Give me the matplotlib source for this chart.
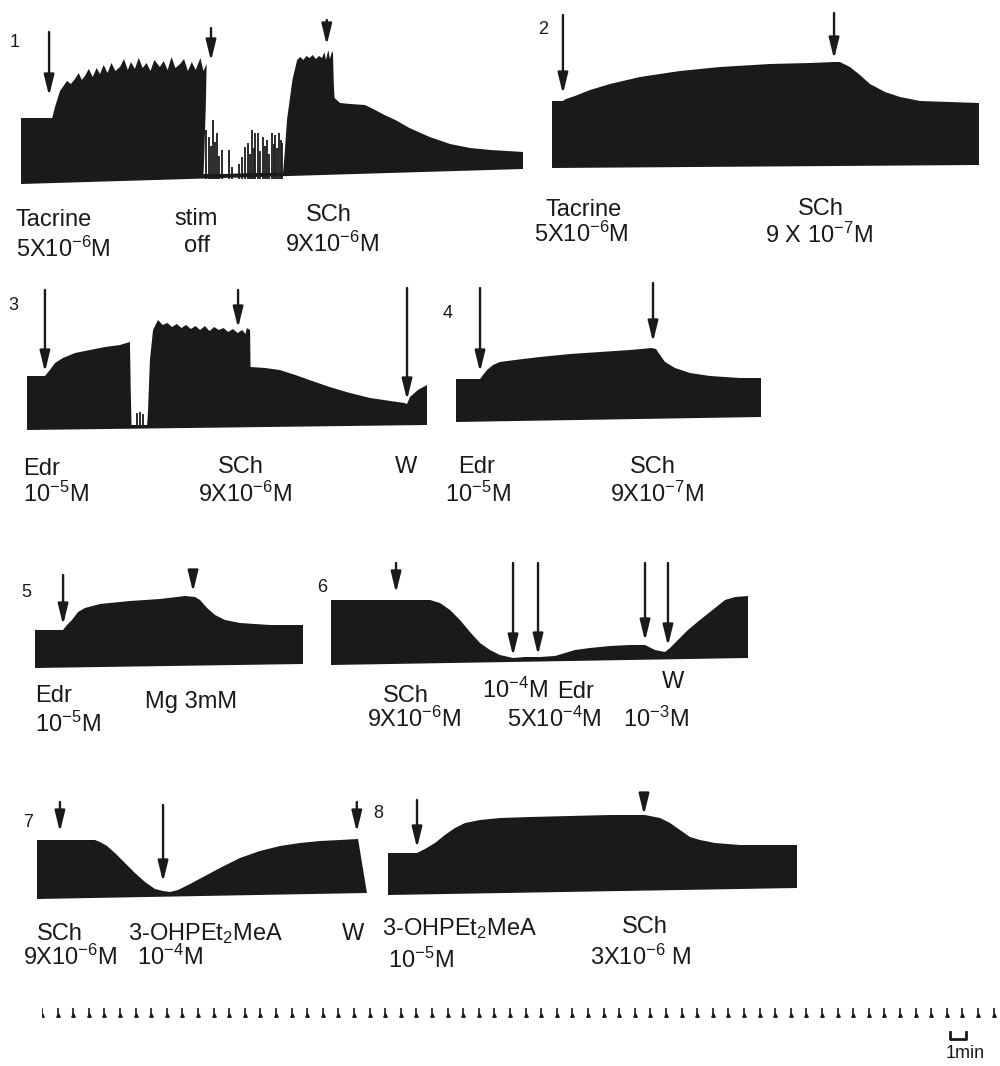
import numpy as np
import matplotlib.pyplot as plt
from matplotlib.patches import ArrowStyle

plt.rcParams["font.family"] = ["Liberation Sans", "DejaVu Sans"]
plt.rcParams["mathtext.fontset"] = "custom"
plt.rcParams["mathtext.rm"] = "Liberation Sans"
plt.rcParams["mathtext.default"] = "regular"

W, H = 1000, 1066
PX_PER_MIN = 15.6          # chart speed on the page
INK = "#1a1a1a"

# Twitch height envelopes: time (min) and peak tension (chart units above pen baseline)
# Panel 1: tacrine, stimulation off, SCh
p1_t = [0, 2.0, 2.18, 2.5, 2.95, 3.2, 3.46, 3.7, 3.9, 4.1, 4.35, 4.6, 4.85, 5.06, 5.3, 5.55, 5.8,
        6.05, 6.35, 6.6, 6.85, 7.05, 7.3, 7.55, 7.8, 8.05, 8.3, 8.55, 8.9, 9.15, 9.4, 9.65, 9.9,
        10.2, 10.45, 10.7, 10.95, 11.2, 11.5, 11.7, 11.9, 11.85, 11.75, 11.7, 13.0, 15.0, 16.8,
        16.9, 17.05, 17.4, 17.7, 17.9, 18.1, 18.3, 18.5, 18.7, 18.9, 19.1, 19.3, 19.45, 19.55,
        19.7, 19.8, 19.95, 20.0, 20.05, 20.1, 20.45, 21.1, 22.05, 22.7, 23.3, 24.0, 24.9, 26.2,
        27.5, 28.8, 30.1, 32.2]
p1_top = [66, 66, 77, 93, 103, 100, 105, 111, 104, 108, 115, 107, 116, 110, 119, 111, 121,
          113, 117, 125, 114, 122, 115, 126, 116, 121, 113, 124, 117, 123, 114, 127, 116,
          120, 125, 113, 122, 114, 126, 113, 120, 80, 30, 10, 10, 11, 11,
          30, 64, 104, 124, 127, 124, 128, 126, 129, 125, 128, 126, 132, 124,
          134, 125, 133, 130, 100, 86, 81, 80, 79, 74, 69, 64, 56, 47,
          40, 36, 34, 32]
p1_floor_t = [0, 32.2]
p1_floor_h = [0, 15]
# single twitches while the tissue recovers from stim off
p1_twitch_t = [11.86, 12.05, 12.15, 12.31, 12.45, 12.56, 12.7, 12.88, 13.33, 13.53, 14.0, 14.17,
               14.36, 14.55, 14.65, 14.81, 14.95, 15.0, 15.19, 15.35, 15.51, 15.65, 15.77, 15.9,
               16.09, 16.2, 16.28, 16.4, 16.54, 16.65, 16.73]
p1_twitch_h = [54, 47, 38, 64, 42, 51, 28, 34, 34, 17, 20, 27, 37, 41, 30, 54, 36, 51, 51, 33,
               47, 38, 44, 30, 51, 40, 49, 36, 51, 44, 41]
p1_arrow_t = [1.8, 12.18, 19.6]
p1_arrow_from = [152, 156, 164]
p1_arrow_to = [88, 123, 139]

# Panel 2: tacrine, SCh 9e-7
p2_t = [0, 0.7, 0.9, 1.47, 2.44, 3.72, 5.64, 8.2, 10.77, 13.97, 16.54, 18.14, 18.46, 19.1,
        19.74, 20.38, 21.35, 22.31, 23.6, 25.5, 27.37]
p2_top = [67, 67, 69, 72, 78, 84, 91, 97, 101, 104, 105, 106, 106, 101, 93, 84, 76, 71, 67, 66, 65]
p2_floor_t = [0, 27.37]
p2_floor_h = [0, 3]
p2_arrow_t = [0.7, 18.08]
p2_arrow_from = [153, 155]
p2_arrow_to = [74, 109]

# Panel 3: edrophonium, SCh 9e-6, wash
p3_t = [0, 1.15, 1.47, 1.8, 2.3, 3.08, 4.04, 5.0, 5.96, 6.6, 6.65, 6.7, 7.7, 7.76, 7.88, 8.08,
        8.4, 8.7, 9.0, 9.3, 9.6, 9.9, 10.2, 10.5, 10.8, 11.1, 11.4, 11.7, 12.0, 12.3, 12.6, 12.9,
        13.2, 13.5, 13.8, 14.0, 14.1, 14.3, 14.33, 15.26, 16.2, 17.2, 18.1, 19.4, 20.7, 22.0,
        23.3, 24.2, 24.36, 24.55, 25.06, 25.64]
p3_top = [54, 54, 60, 67, 72, 77, 80, 83, 85, 88, 40, 5, 5, 20, 70, 100,
          110, 105, 107, 103, 106, 102, 105, 101, 104, 100, 104, 99, 103, 100, 102, 98,
          101, 97, 100, 96, 102, 100, 63, 62, 60, 55, 50, 43, 37, 32,
          29, 27, 26, 33, 40, 45]
p3_floor_t = [0, 25.64]
p3_floor_h = [0, 5]
p3_twitch_t = [7.05, 7.24, 7.44]
p3_twitch_h = [17, 18, 16]
p3_arrow_t = [1.15, 13.53, 24.36]
p3_arrow_from = [140, 140, 142]
p3_arrow_to = [58, 102, 30]

# Panel 4: edrophonium, SCh 9e-7
p4_t = [0, 1.54, 1.73, 1.99, 2.37, 2.82, 3.78, 5.38, 7.31, 9.23, 11.15, 12.56, 12.82, 13.08,
        13.4, 14.04, 15.0, 16.28, 18.2, 19.55]
p4_top = [43, 43, 47, 52, 57, 60, 62, 65, 68, 70, 72, 74, 73, 67, 60, 54, 49, 46, 44, 44]
p4_floor_t = [0, 19.55]
p4_floor_h = [0, 5]
p4_arrow_t = [1.54, 12.63]
p4_arrow_from = [134, 139]
p4_arrow_to = [50, 80]

# Panel 5: edrophonium, Mg 3 mM
p5_t = [0, 1.8, 2.05, 2.37, 2.76, 3.2, 4.17, 6.09, 8.01, 9.62, 10.26, 10.58, 11.03, 11.54,
        12.18, 13.14, 15.06, 17.18]
p5_top = [38, 38, 43, 48, 56, 60, 64, 67, 69, 72, 71, 68, 60, 53, 48, 45, 43, 43]
p5_floor_t = [0, 17.18]
p5_floor_h = [0, 4]
p5_arrow_t = [1.8, 10.13]
p5_arrow_from = [93, 95]
p5_arrow_to = [43, 76]

# Panel 6: SCh block, edrophonium 1e-4 / 5e-4 / 1e-3, wash
p6_t = [0, 6.35, 6.99, 7.63, 8.27, 8.91, 9.55, 10.19, 10.83, 11.67, 12.44, 13.4, 14.36, 15.0,
        15.64, 16.6, 17.88, 19.17, 20.13, 20.77, 21.41, 21.73, 22.24, 22.88, 23.65, 24.62,
        25.26, 25.9, 26.73]
p6_top = [65, 65, 62, 55, 45, 33, 22, 15, 10, 7, 8, 8, 9, 12, 15, 17, 19, 20, 20, 15, 13, 17,
          25, 35, 45, 57, 65, 68, 69]
p6_floor_t = [0, 26.73]
p6_floor_h = [0, 7]
p6_arrow_t = [4.17, 11.67, 13.27, 20.13, 21.6]
p6_arrow_from = [102, 102, 102, 102, 102]
p6_arrow_to = [72, 9, 10, 24, 19]

# Panel 7: SCh, 3-OHPEt2MeA 1e-4, wash
p7_t = [0, 3.72, 4.04, 4.49, 5.0, 5.64, 6.28, 6.92, 7.56, 8.08, 8.53, 9.04, 9.81, 10.77, 11.73,
        13.01, 14.29, 15.58, 16.86, 18.14, 19.42, 20.58]
p7_top = [59, 59, 57, 53, 46, 36, 26, 17, 10, 8, 7, 9, 15, 23, 31, 41, 48, 53, 56, 58, 59, 60]
p7_floor_t = [0, 21.15]
p7_floor_h = [0, 6]
p7_arrow_t = [1.47, 8.08, 20.5]
p7_arrow_from = [97, 94, 97]
p7_arrow_to = [67, 17, 67]

# Panel 8: 3-OHPEt2MeA 1e-5, SCh 3e-6
p8_t = [0, 1.86, 2.37, 3.01, 3.65, 4.29, 4.94, 5.9, 7.18, 9.1, 11.67, 14.23, 16.47, 17.44,
        18.08, 18.72, 19.36, 20.0, 20.96, 22.56, 26.22]
p8_top = [42, 42, 46, 52, 60, 67, 72, 75, 77, 78, 79, 80, 80, 77, 72, 65, 58, 55, 52, 50, 50]
p8_floor_t = [0, 26.22]
p8_floor_h = [0, 7]
p8_arrow_t = [1.86, 16.41]
p8_arrow_from = [95, 92]
p8_arrow_to = [47, 80]

# 1-min time marker
minute_marks = np.arange(0, 62)

fig = plt.figure(figsize=(W / 100, H / 100), dpi=100)
fig.patch.set_facecolor("white")


def trace_axes(x0, y0, t_end, h_lo=-12, h_hi=175):
    # x0, y0: page pixel where t=0 sits on the pen baseline; one chart unit = one pixel
    ax = fig.add_axes([x0 / W, 1 - (y0 - h_lo) / H,
                       t_end * PX_PER_MIN / W, (h_hi - h_lo) / H])
    ax.set_xlim(0, t_end)
    ax.set_ylim(h_lo, h_hi)
    ax.axis("off")
    return ax


def draw_trace(ax, t, top, floor_t, floor_h):
    xs = list(t) + floor_t[::-1]
    ys = list(top) + floor_h[::-1]
    ax.fill(xs, ys, color=INK, lw=0)


def draw_arrows(ax, times, tails, tips):
    style = ArrowStyle("-|>", head_length=0.9, head_width=0.22)
    for t, a, b in zip(times, tails, tips):
        ax.annotate("", xy=(t, b), xytext=(t, a),
                    arrowprops=dict(arrowstyle=style, color=INK, lw=1.7,
                                    shrinkA=0, shrinkB=0, mutation_scale=14),
                    annotation_clip=False)


def label(x, y, s, size=17):
    fig.text(x / W, 1 - y / H, s, fontsize=size, ha="left", va="baseline", color=INK)


panels = [
    (21, 184, p1_t, p1_top, p1_floor_t, p1_floor_h, p1_arrow_t, p1_arrow_from, p1_arrow_to),
    (552, 168, p2_t, p2_top, p2_floor_t, p2_floor_h, p2_arrow_t, p2_arrow_from, p2_arrow_to),
    (27, 430, p3_t, p3_top, p3_floor_t, p3_floor_h, p3_arrow_t, p3_arrow_from, p3_arrow_to),
    (456, 422, p4_t, p4_top, p4_floor_t, p4_floor_h, p4_arrow_t, p4_arrow_from, p4_arrow_to),
    (35, 668, p5_t, p5_top, p5_floor_t, p5_floor_h, p5_arrow_t, p5_arrow_from, p5_arrow_to),
    (331, 665, p6_t, p6_top, p6_floor_t, p6_floor_h, p6_arrow_t, p6_arrow_from, p6_arrow_to),
    (37, 899, p7_t, p7_top, p7_floor_t, p7_floor_h, p7_arrow_t, p7_arrow_from, p7_arrow_to),
    (388, 895, p8_t, p8_top, p8_floor_t, p8_floor_h, p8_arrow_t, p8_arrow_from, p8_arrow_to),
]

axes = []
for x0, y0, t, top, ft, fh, at, af, ato in panels:
    ax = trace_axes(x0, y0, ft[-1])
    draw_trace(ax, t, top, ft, fh)
    draw_arrows(ax, at, af, ato)
    axes.append(ax)

axes[0].vlines(p1_twitch_t, 5, p1_twitch_h, color=INK, lw=1.3)
axes[2].vlines(p3_twitch_t, 2, p3_twitch_h, color=INK, lw=1.3)

# panel numbers
for n, (x, y) in enumerate([(10, 47), (538, 34), (8, 310), (443, 318),
                            (21, 597), (317, 592), (23, 827), (373, 818)], start=1):
    label(x, y, str(n), size=13)

# drug labels
label(15, 226, "Tacrine")
label(16, 257, "5X10$^{-6}$M")
label(174, 225, "stim")
label(184, 252, "off")
label(306, 221, "SCh")
label(285, 252, "9X10$^{-6}$M")

label(545, 216, "Tacrine")
label(534, 242, "5X10$^{-6}$M")
label(798, 215, "SCh")
label(765, 243, "9 X 10$^{-7}$M")

label(23, 475, "Edr")
label(23, 502, "10$^{-5}$M")
label(218, 473, "SCh")
label(198, 502, "9X10$^{-6}$M")
label(395, 473, "W")

label(458, 473, "Edr")
label(445, 502, "10$^{-5}$M")
label(630, 473, "SCh")
label(610, 502, "9X10$^{-7}$M")

label(35, 702, "Edr")
label(35, 732, "10$^{-5}$M")
label(145, 708, "Mg 3mM")

label(383, 702, "SCh")
label(367, 727, "9X10$^{-6}$M")
label(482, 698, "10$^{-4}$M")
label(557, 698, "Edr")
label(507, 727, "5X10$^{-4}$M")
label(662, 688, "W")
label(623, 727, "10$^{-3}$M")

label(37, 940, "SCh")
label(23, 965, "9X10$^{-6}$M")
label(128, 940, "3-OHPEt$_2$MeA")
label(137, 965, "10$^{-4}$M")
label(342, 940, "W")

label(382, 935, "3-OHPEt$_2$MeA")
label(388, 968, "10$^{-5}$M")
label(622, 933, "SCh")
label(590, 965, "3X10$^{-6}$ M")

# time marker strip with 1 min bar
time_ax = trace_axes(42, 1045, 61.4, h_lo=-5, h_hi=45)
time_ax.vlines(minute_marks, 29, 37, color=INK, lw=1.2)
time_ax.plot(minute_marks, np.full(len(minute_marks), 30), "^", color=INK, ms=2.5)
time_ax.plot([58.2, 58.2, 59.2, 59.2], [13, 6, 6, 13], color=INK, lw=2)
label(946, 1058, "1min", size=13)

fig.savefig("out.png", dpi=100, facecolor="white")
